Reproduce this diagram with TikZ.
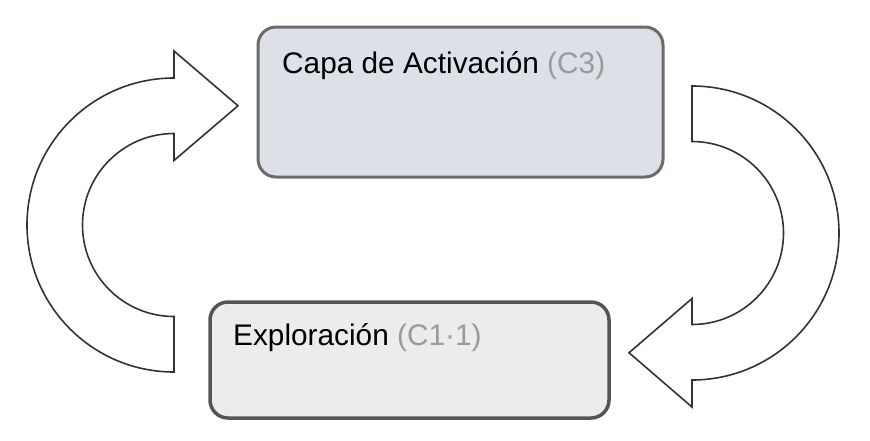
\documentclass[tikz,border=0pt]{standalone}
\usepackage{fontspec}
\setmainfont{Liberation Sans}
\definecolor{topfill}{HTML}{DDE0E6}
\definecolor{topline}{HTML}{6B6B6B}
\definecolor{botfill}{HTML}{ECECEC}
\definecolor{botline}{HTML}{555555}
\definecolor{arrowline}{HTML}{333333}
\definecolor{codegray}{HTML}{9A9A9A}
\tikzset{
  layerbox/.style={rectangle, rounded corners=18pt, inner sep=0pt, line width=3pt},
  label/.style={anchor=base west, inner sep=0pt, font=\fontsize{29.8}{35}\selectfont},
  bigarrow/.style={draw=arrowline, fill=white, line width=1.6pt, line join=miter}
}
\begin{document}
\begin{tikzpicture}[x=1pt,y=-1pt]
\useasboundingbox (0,0) rectangle (870,440);
% boxes
\node[layerbox, draw=topline, fill=topfill, minimum width=405pt, minimum height=150pt] (top) at (460.5,102) {};
\node[layerbox, draw=botline, fill=botfill, line width=3.5pt, minimum width=399pt, minimum height=116pt] (bot) at (409.5,360) {};
% texts
\node[label] (toptext) at (282,73) {Capa de Activación \textcolor{codegray}{(C3)}};
\node[label] (bottext) at (233,345) {Exploración \textcolor{codegray}{(C1·1)}};
% left curved arrow (up, pointing right)
\draw[bigarrow] (174,78) arc[start angle=270, end angle=90, radius=147]
  -- (174,316.5) arc[start angle=90, end angle=270, radius=91.5]
  -- (174,160.5) -- (238,105.75) -- (174,51) -- cycle;
% right curved arrow (down, pointing left)
\draw[bigarrow] (692,86) arc[start angle=270, end angle=450, radius=147]
  -- (692,407) -- (629,352.75) -- (692,298.5) -- (692,324.5)
  arc[start angle=90, end angle=-90, radius=91.5] -- cycle;
\end{tikzpicture}
\end{document}
